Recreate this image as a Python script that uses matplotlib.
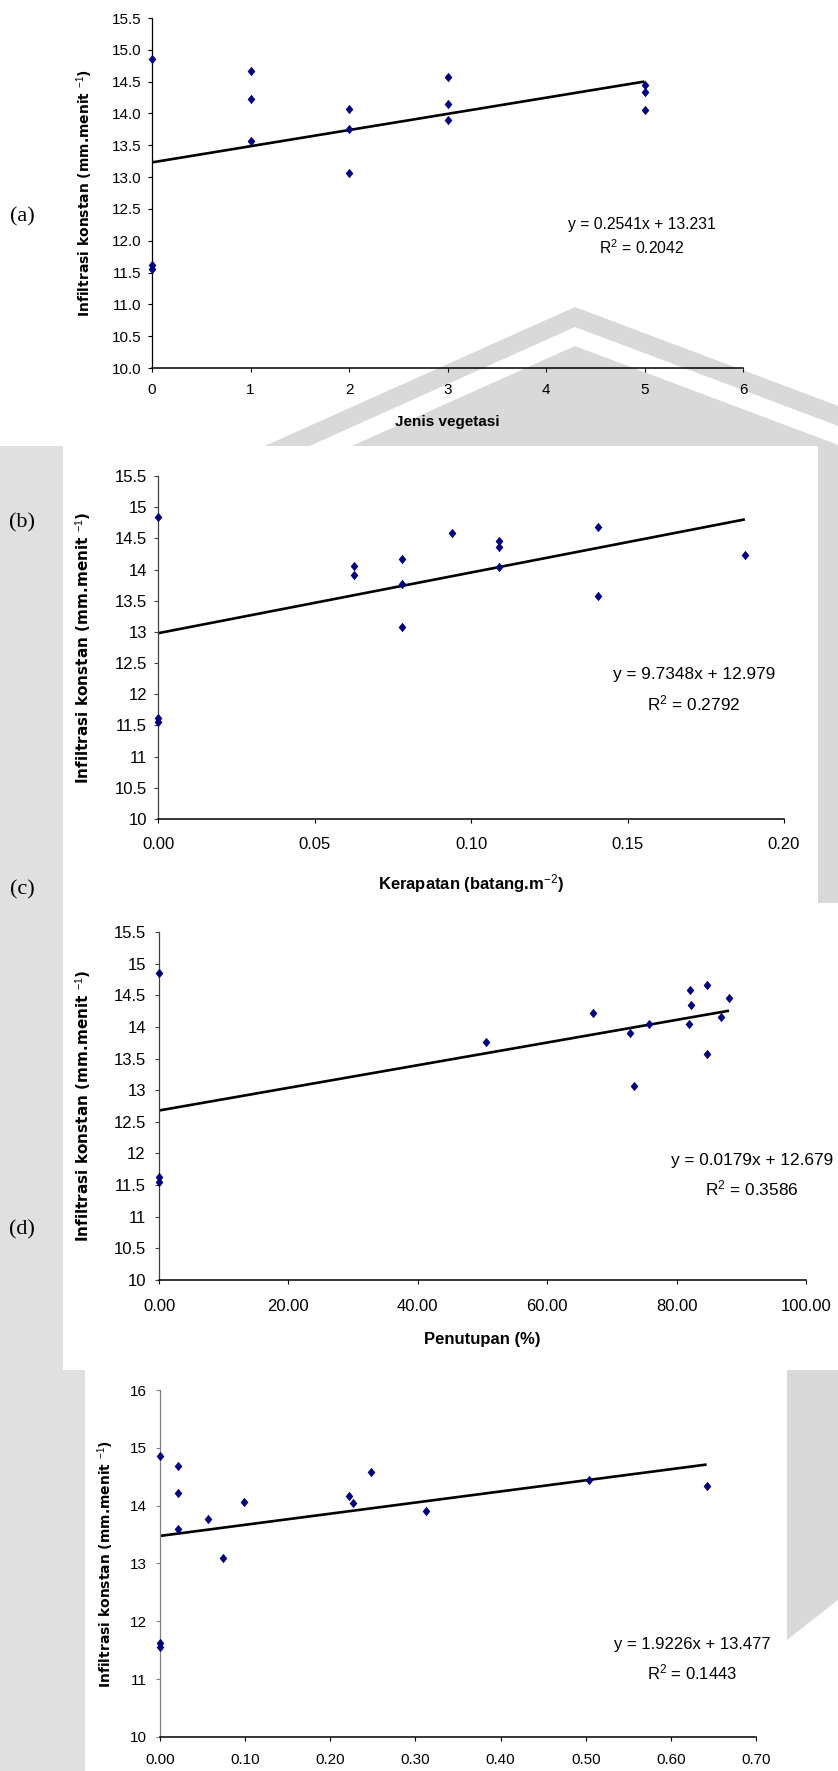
import matplotlib
matplotlib.use("Agg")
import matplotlib.pyplot as plt
from matplotlib.patches import Polygon, Rectangle
import numpy as np

plt.rcParams['font.family'] = ['Liberation Sans', 'DejaVu Sans']
plt.rcParams['mathtext.fontset'] = 'custom'
plt.rcParams['mathtext.rm'] = 'Liberation Sans'
plt.rcParams['mathtext.it'] = 'Liberation Sans:italic'
plt.rcParams['mathtext.bf'] = 'Liberation Sans:bold'

W, H = 838, 1771

# (a) jenis vegetasi
veg_x = [0, 0, 0, 1, 1, 1, 2, 2, 2, 3, 3, 3, 5, 5, 5]
veg_y = [14.85, 11.62, 11.55, 14.67, 14.23, 13.56, 14.07, 13.75, 13.07,
         14.58, 14.15, 13.90, 14.44, 14.34, 14.05]

# (b) kerapatan
dens_x = [0, 0, 0, 0.0625, 0.0625, 0.078, 0.078, 0.078, 0.094,
          0.109, 0.109, 0.109, 0.1405, 0.1405, 0.1875]
dens_y = [14.85, 11.62, 11.55, 14.06, 13.91, 14.17, 13.77, 13.08, 14.59,
          14.46, 14.36, 14.04, 14.68, 13.57, 14.23]

# (c) penutupan
cover_x = [0, 0, 0, 50.6, 67.1, 72.8, 73.4, 75.8, 81.9, 82.0, 82.3,
           84.7, 84.7, 86.8, 88.1]
cover_y = [14.85, 11.62, 11.55, 13.76, 14.22, 13.90, 13.06, 14.05, 14.05,
           14.58, 14.35, 14.66, 13.57, 14.16, 14.46]

# (d) bottom panel
last_x = [0, 0, 0, 0.0207, 0.0213, 0.0207, 0.0558, 0.0739, 0.0984,
          0.2218, 0.2262, 0.2475, 0.312, 0.504, 0.642]
last_y = [14.86, 11.62, 11.55, 14.68, 14.22, 13.59, 13.77, 13.09, 14.07,
          14.16, 14.04, 14.59, 13.90, 14.45, 14.34]

slopes = [0.2541, 9.7348, 0.0179, 1.9226]
intercepts = [13.231, 12.979, 12.679, 13.477]
r_squared = [0.2042, 0.2792, 0.3586, 0.1443]

panel_tags = ['(a)', '(b)', '(c)', '(d)']
x_titles = ['Jenis vegetasi', 'Kerapatan (batang.m$^{-2}$)', 'Penutupan (%)', None]
y_title = 'Infiltrasi konstan (mm.menit $^{-1}$)'

diamond = [(0, -1.1), (0.9, 0), (0, 1.1), (-0.9, 0), (0, -1.1)]

fig = plt.figure(figsize=(W / 100, H / 100), dpi=100)
fig.patch.set_facecolor('white')


def fx(x):
    return x / W


def fy(y):
    return 1 - y / H


# background: rough shapes of the page watermark logo, coordinates in pixels
bg = fig.add_axes([0, 0, 1, 1])
bg.set_xlim(0, W)
bg.set_ylim(H, 0)
bg.axis('off')
gray = '#d9d9d9'
bg.add_patch(Polygon([(200, 307 + 0.448 * 375), (575, 307), (838, 307 + 0.376 * 263),
                      (838, 470), (200, 470)], closed=True, color=gray, lw=0, zorder=1))
bg.add_patch(Polygon([(200, 327 + 0.448 * 375), (575, 327), (838, 327 + 0.376 * 263),
                      (838, 346 + 0.376 * 263), (575, 346), (200, 346 + 0.448 * 375)],
                     closed=True, color='white', lw=0, zorder=1.5))
bg.add_patch(Rectangle((0, 446), 63, 924, color='#e0e0e0', lw=0, zorder=1))
bg.add_patch(Rectangle((800, 446), 38, 457, color=gray, lw=0, zorder=1))
bg.add_patch(Rectangle((0, 1370), 85, 401, color='#e0e0e0', lw=0, zorder=1))
bg.add_patch(Polygon([(787, 1370), (838, 1370), (838, 1600), (787, 1640)],
                     closed=True, color=gray, lw=0, zorder=1))

# white chart areas of panels b, c and the bottom one
bg.add_patch(Rectangle((63, 446), 755, 457, color='white', lw=0, zorder=3))
bg.add_patch(Rectangle((63, 903), 775, 467, color='white', lw=0, zorder=3))
bg.add_patch(Rectangle((85, 1371), 702, 400, color='white', lw=0, zorder=3))


def px_axes(left, top, right, bottom):
    a = fig.add_axes([fx(left), fy(bottom), (right - left) / W, (bottom - top) / H])
    a.set_facecolor('none')
    return a


def draw_panel(ax, xs, ys, slope, icpt, xlim, xticks, xfmt, ylim, yticks, yfmt,
               tick_fs, xpad, ypad, left_color, ylab_x, ylab_fs):
    ax.scatter(xs, ys, marker=diamond, s=46, color='#000080', zorder=3, clip_on=False,
               linewidths=0)
    xmax = max(xs)
    ax.plot([0, xmax], [icpt, slope * xmax + icpt], color='black', lw=1.9, zorder=2,
            solid_capstyle='butt')
    ax.set_xlim(*xlim)
    ax.set_ylim(*ylim)
    ax.set_xticks(xticks)
    ax.set_xticklabels([xfmt.format(v) for v in xticks])
    ax.set_yticks(yticks)
    ax.set_yticklabels([yfmt(v) for v in yticks])
    for s in ['top', 'right']:
        ax.spines[s].set_visible(False)
    ax.spines['left'].set_color(left_color)
    ax.spines['left'].set_linewidth(0.9)
    ax.spines['bottom'].set_color('black')
    ax.spines['bottom'].set_linewidth(1.1)
    ax.tick_params(axis='x', direction='out', length=3, width=0.8, pad=xpad,
                   labelsize=tick_fs, color='black')
    ax.tick_params(axis='y', direction='out', length=3, width=0.8, pad=ypad,
                   labelsize=tick_fs, color=left_color)
    ax.set_ylabel(y_title, family='DejaVu Sans', fontweight='bold', fontsize=ylab_fs)
    ax.yaxis.set_label_coords(ylab_x, 0.5)


def y_general(v):
    return ('%g' % v)


def y_one_dec(v):
    return '%.1f' % v


# (a)
ax_a = px_axes(152, 18, 743, 368)
draw_panel(ax_a, veg_x, veg_y, slopes[0], intercepts[0],
           (0, 6), list(range(0, 7)), '{:g}', (10, 15.5), np.arange(10, 15.51, 0.5),
           y_one_dec, 11, 7.5, 4.3, 'black', -0.096, 10)
# (b)
ax_b = px_axes(158, 476, 784, 819)
draw_panel(ax_b, dens_x, dens_y, slopes[1], intercepts[1],
           (0, 0.2), [0, 0.05, 0.1, 0.15, 0.2], '{:.2f}', (10, 15.5),
           np.arange(10, 15.51, 0.5), y_general, 12, 10, 5, '#404040', -0.102, 11)
# (c)
ax_c = px_axes(159, 932, 806, 1280)
draw_panel(ax_c, cover_x, cover_y, slopes[2], intercepts[2],
           (0, 100), [0, 20, 40, 60, 80, 100], '{:.2f}', (10, 15.5),
           np.arange(10, 15.51, 0.5), y_general, 12, 10.5, 6.5, '#404040', -0.100, 11)
# (d)
ax_d = px_axes(160, 1390, 756, 1737)
draw_panel(ax_d, last_x, last_y, slopes[3], intercepts[3],
           (0, 0.7), [0, 0.1, 0.2, 0.3, 0.4, 0.5, 0.6, 0.7], '{:.2f}', (10, 16),
           list(range(10, 17)), y_general, 11, 8.5, 6.5, '#808080', -0.074, 10)

# x axis titles
for ax, title, ypos, fs in [(ax_a, x_titles[0], -0.154, 11), (ax_b, x_titles[1], -0.187, 12),
                            (ax_c, x_titles[2], -0.170, 12)]:
    ax.set_xlabel(title, fontweight='bold', fontsize=fs)
    ax.xaxis.set_label_coords(0.5, ypos)
    ax.xaxis.label.set_va('center')

# trend equations
eq_pos = [(642, 225, 248, 11.3), (694, 675, 703, 12.4), (752, 1161, 1188, 12.4),
          (692, 1645, 1672, 12)]
for i, (cx, y1, y2, fs) in enumerate(eq_pos):
    fig.text(fx(cx), fy(y1), 'y = %sx + %s' % (slopes[i], intercepts[i]),
             ha='center', va='center', fontsize=fs)
    fig.text(fx(cx), fy(y2), 'R$^2$ = %s' % r_squared[i], ha='center', va='center',
             fontsize=fs)

# panel tags
tag_pos = [217, 523, 890, 1230]
for tag, ty in zip(panel_tags, tag_pos):
    fig.text(fx(22), fy(ty), tag, family='Liberation Serif', fontsize=16,
             ha='center', va='center')

fig.savefig('out.png', dpi=100, facecolor='white')
